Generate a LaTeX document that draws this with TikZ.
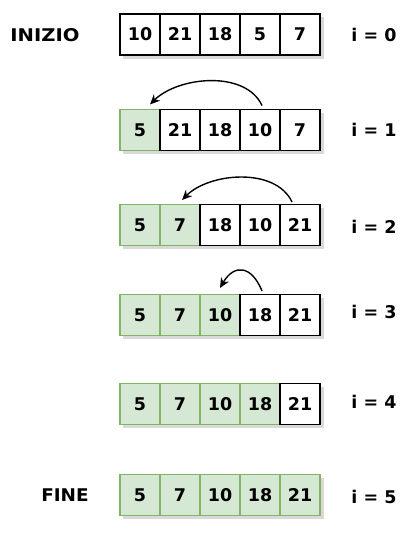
\documentclass[tikz,border=0pt]{standalone}
\usepackage{fontspec}
\setmainfont{DejaVu Sans}
\usetikzlibrary{arrows.meta}
\definecolor{gfill}{HTML}{D5E8D4}
\definecolor{gline}{HTML}{82B366}
\tikzset{
  cellw/.style={draw=black, fill=white, line width=1.4pt, minimum width=40pt, minimum height=41pt, inner sep=0pt, outer sep=0pt, font=\fontsize{17.5}{20}\selectfont\bfseries},
  cellg/.style={cellw, draw=gline, fill=gfill},
  lbl/.style={font=\fontsize{17.5}{20}\selectfont\bfseries, inner sep=0pt},
  shad/.style={fill=black, opacity=0.15},
  arr/.style={line width=1.4pt, -{Stealth[length=10pt,width=9pt]}},
}
\begin{document}
\begin{tikzpicture}[x=1pt,y=-1pt]
\useasboundingbox (0,0) rectangle (417,542);
\foreach \r/\yy/\vals/\g in {0/34.5/{10,21,18,5,7}/0,1/130/{5,21,18,10,7}/1,2/225/{5,7,18,10,21}/2,3/315/{5,7,10,18,21}/3,4/404/{5,7,10,18,21}/4,5/495/{5,7,10,18,21}/5}{
  \fill[shad] (123,\yy-17.5) rectangle (324,\yy+24);
  \foreach \v [count=\c from 0] in \vals {
    \ifnum\c<\g
      \node[cellg] (r\r c\c) at (140+40*\c,\yy) {\v};
    \else
      \node[cellw] (r\r c\c) at (140+40*\c,\yy) {\v};
    \fi
  }
}
\node[lbl, xscale=1.12] (inizio) at (45,35) {INIZIO};
\node[lbl, xscale=1.05] (fine) at (65,495) {FINE};
\node[lbl] (i0) at (374,35) {i = 0};
\node[lbl] (i1) at (374,130) {i = 1};
\node[lbl] (i2) at (374,227) {i = 2};
\node[lbl] (i3) at (374,312) {i = 3};
\node[lbl] (i4) at (374,402) {i = 4};
\node[lbl] (i5) at (374,497) {i = 5};
\draw[arr] ([xshift=2pt,yshift=4pt]r1c3.north) to[out=115,in=45,looseness=0.9] ([xshift=-10pt,yshift=5pt]r1c0.north east);
\draw[arr] ([xshift=-8pt,yshift=2.5pt]r2c4.north) to[out=115,in=45,looseness=0.9] ([xshift=2pt,yshift=4.5pt]r2c1.north);
\draw[arr] ([xshift=2pt,yshift=3.5pt]r3c3.north) to[out=112,in=60,looseness=1.7] ([yshift=6.5pt]r3c2.north);
\end{tikzpicture}
\end{document}
